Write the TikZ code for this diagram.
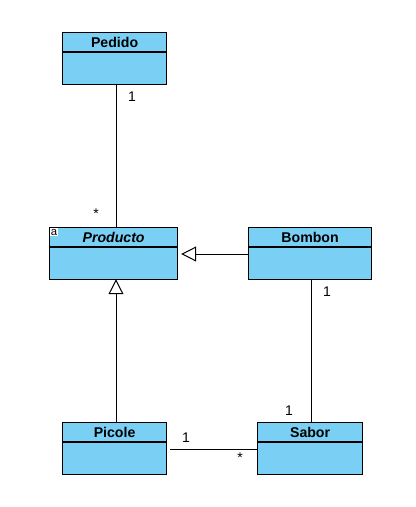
\documentclass[tikz,border=0pt]{standalone}
\usepackage{fontspec}
\setmainfont{Liberation Sans}
\usetikzlibrary{arrows.meta}
\usetikzlibrary{positioning}

\definecolor{classfill}{RGB}{122,207,245}

\tikzset{
  classbox/.style={draw, line width=0.9pt, fill=classfill, anchor=north west,
    minimum height=39pt, inner sep=0pt},
  classtitle/.style={font=\fontsize{10.6}{12}\selectfont\bfseries, inner sep=0.75pt},
  mult/.style={font=\fontsize{10.5}{12}\selectfont, inner sep=0.75pt},
  assoc/.style={line width=0.75pt},
  inherit/.style={line width=0.75pt, -{Triangle[open, length=11.25pt, width=11.25pt]}}
}

\begin{document}
\begin{tikzpicture}[x=0.75pt,y=0.75pt,yscale=-1,xscale=1]
\useasboundingbox (0,0) rectangle (416,507);

%Classes
\node [classbox, minimum width=78pt] (pedido) at (62,32) {};
\node [classbox, minimum width=96pt] (producto) at (49,227) {};
\node [classbox, minimum width=92.25pt] (bombon) at (248,227) {};
\node [classbox, minimum width=78pt] (picole) at (62,422) {};
\node [classbox, minimum width=78.75pt] (sabor) at (257,422) {};

%Header lines (yshift runs downward here, yscale=-1)
\foreach \c in {pedido,producto,bombon,picole,sabor}
  \draw [line width=0.9pt] ([yshift=15pt]\c.north west) -- ([yshift=15pt]\c.north east) ;

% Class names
\node [classtitle] (pedido-t) at ([yshift=7.5pt]pedido.north) {Pedido};
\node [classtitle] (producto-t) at ([yshift=7.5pt]producto.north) {\itshape Producto};
\node [classtitle] (bombon-t) at ([yshift=7.5pt]bombon.north) {Bombon};
\node [classtitle] (picole-t) at ([yshift=7.5pt]picole.north) {Picole};
\node [classtitle] (sabor-t) at ([yshift=7.5pt]sabor.north) {Sabor};

% Abstract mark
\node [fill=white, inner sep=0.5pt, font=\fontsize{8.5}{9}\selectfont, anchor=north west] (producto-a) at (50,228) {a};

% Line positions
\coordinate (left-x) at (116,0);
\coordinate (right-x) at (311,0);
\coordinate (top-y) at (0,254);
\coordinate (low-y) at (0,449);

%Associations
\draw [assoc] (pedido.south -| left-x) -- (producto.north -| left-x) ;
\draw [assoc] (bombon.south -| right-x) -- (sabor.north -| right-x) ;
\draw [assoc, shorten <=2.25pt] (picole.east |- low-y) -- (sabor.west |- low-y) ;

%Generalizations
\draw [inherit, shorten >=-0.75pt] (picole.north -| left-x) -- (producto.south -| left-x) ;
\draw [inherit, shorten >=2.25pt] (bombon.west |- top-y) -- (producto.east |- top-y) ;

% Multiplicities
\node [mult] (m-pedido) at (132,97) {1};
\node [mult] (m-producto) at (96,214) {*};
\node [mult] (m-bombon) at (327,292) {1};
\node [mult] (m-sabor1) at (289,411) {1};
\node [mult] (m-picole) at (186,438) {1};
\node [mult] (m-sabor2) at (240,458) {*};

\end{tikzpicture}
\end{document}
